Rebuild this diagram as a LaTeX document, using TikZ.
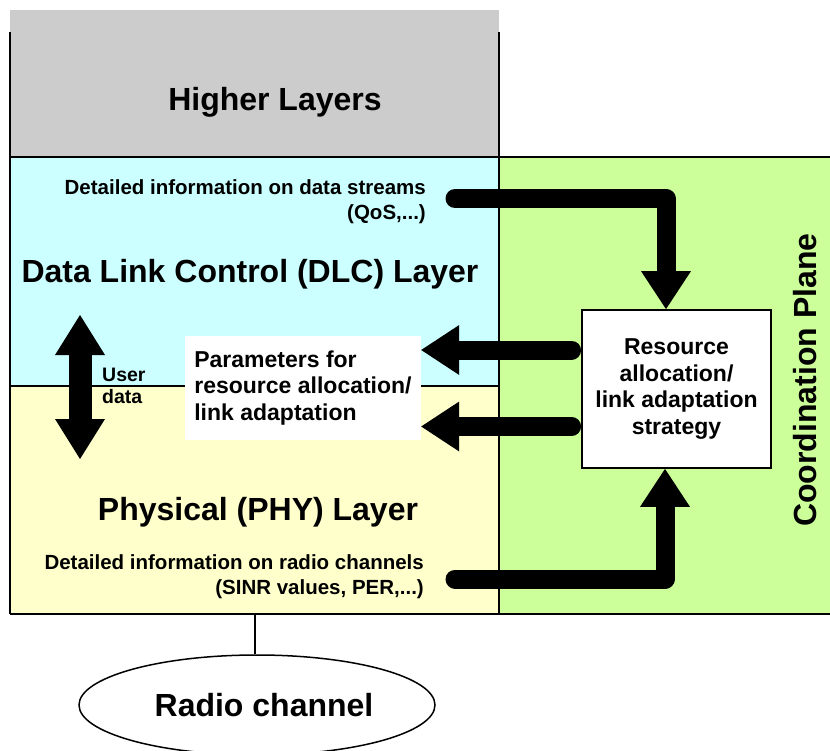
\documentclass[tikz,border=0pt]{standalone}
\usepackage{fontspec}
\setmainfont{Liberation Sans}
\usetikzlibrary{arrows.meta,shapes.geometric}
\definecolor{hlgray}{HTML}{CCCCCC}
\definecolor{dlccyan}{HTML}{CCFFFF}
\definecolor{phyyel}{HTML}{FFFFCC}
\definecolor{cpgreen}{HTML}{CCFF99}
\begin{document}
\begin{tikzpicture}[x=1pt,y=-1pt,
  border/.style={line width=1.8pt},
  bigtxt/.style={font=\bfseries\fontsize{32}{38}\selectfont},
  midtxt/.style={font=\bfseries\fontsize{23}{26.5}\selectfont},
  smalltxt/.style={font=\bfseries\fontsize{20.5}{25}\selectfont, align=right, anchor=east, inner sep=0pt},
  fatarrow/.style={line width=19pt, line join=round, line cap=round,
    -{Triangle[width=50pt,length=38pt,line width=0pt]}},
  dblarrow/.style={line width=23pt,
    {Triangle[width=50pt,length=40pt,line width=0pt]}-{Triangle[width=50pt,length=40pt,line width=0pt]}}
]
\useasboundingbox (0,0) rectangle (830,751);
% regions
\fill[hlgray] (10,10) rectangle (499,157);
\fill[dlccyan] (10,157) rectangle (499,386);
\fill[phyyel] (10,386) rectangle (499,614);
\fill[cpgreen] (499,157) rectangle (830,614);
\draw[border] (10,32) -- (10,614);
\draw[border] (499,32) -- (499,614);
\draw[border] (10,157) -- (830,157);
\draw[border] (10,386) -- (499,386);
\draw[border] (10,614) -- (830,614);

% layer texts
\node[bigtxt] (hl) at (275,102) {Higher Layers};
\node[bigtxt] (dlc) at (250,274) {Data Link Control (DLC) Layer};
\node[bigtxt] (phy) at (258,512) {Physical (PHY) Layer};
\node[bigtxt, rotate=90] (cp) at (805.5,380) {Coordination Plane};
\node[smalltxt] (dsd) at (426,202) {Detailed information on data streams\\(QoS,...)};
\node[smalltxt] (rcd) at (424,577) {Detailed information on radio channels\\(SINR values, PER,...)};

% boxes
\node[draw, border, fill=white, minimum width=189pt, minimum height=158pt, inner sep=0pt,
  midtxt, align=center] (rab) at (676.5,389) {Resource\\allocation/\\link adaptation\\strategy};
\node[fill=white, minimum width=236pt, minimum height=104pt, inner sep=0pt,
  midtxt, align=left] (par) at (303,388) {Parameters for\\resource allocation/\\link adaptation};

% user data
\coordinate (u1) at (80,315);
\coordinate (u2) at (80,459);
\draw[dblarrow] (u1) -- (u2);
\node[font=\bfseries\fontsize{19.5}{21.5}\selectfont, align=left, anchor=west, inner sep=0pt] (ud) at (102,386) {User\\data};

% fat arrows
\coordinate (s1) at (455,198.5);
\coordinate (k1) at (666,198.5);
\draw[fatarrow] (s1) -- (k1) -- (k1 |- rab.north);
\coordinate (s4) at (455,579);
\coordinate (k4) at (665,579);
\draw[fatarrow] (s4) -- (k4) -- (k4 |- rab.south);
\coordinate (y2) at (0,350);
\coordinate (y3) at (0,426.5);
\draw[fatarrow, shorten <=9.5pt] (rab.west |- y2) -- (par.east |- y2);
\draw[fatarrow, shorten <=9.5pt] (rab.west |- y3) -- (par.east |- y3);

% radio channel
\node[draw, line width=1.5pt, ellipse, minimum width=356pt, minimum height=100pt, inner sep=0pt,
  bigtxt] (radio) at (257,705) {\hspace*{14pt}Radio channel};
\coordinate (phyb) at (255,614);
\draw[line width=1.5pt] (phyb) -- (phyb |- radio.north);
\end{tikzpicture}
\end{document}
